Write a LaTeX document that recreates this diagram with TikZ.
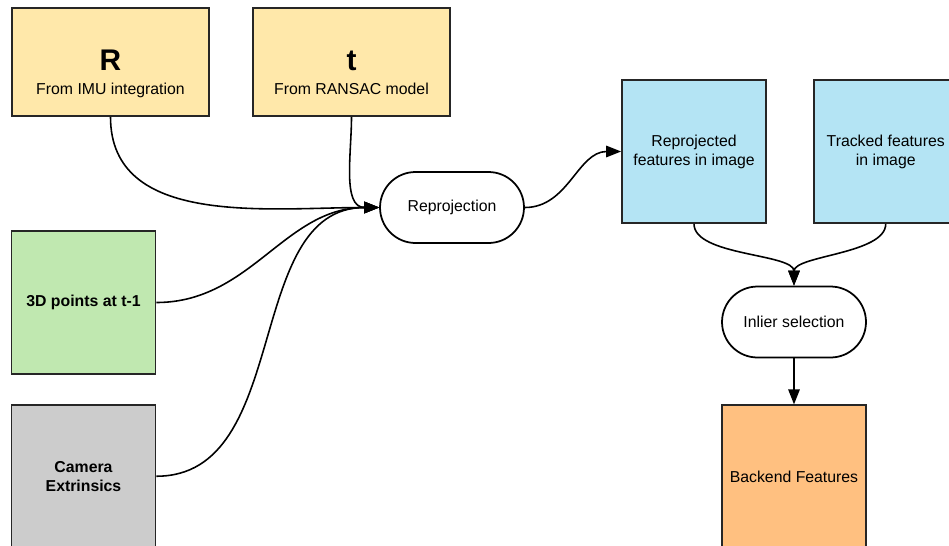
\documentclass[tikz,border=0pt]{standalone}
\usepackage{fontspec}
\setmainfont{Liberation Sans}
\usetikzlibrary{positioning,calc,arrows.meta,shapes.misc}
\definecolor{inyellow}{HTML}{FFE8AA}
\definecolor{ingreen}{HTML}{C0E8B0}
\definecolor{ingray}{HTML}{CCCCCC}
\definecolor{featblue}{HTML}{B4E4F4}
\definecolor{outorange}{HTML}{FFC080}
\tikzset{txt/.style={font=\fontsize{9}{10.8}\selectfont}}
\tikzset{dbox/.style={draw=black!85, line width=1pt, minimum width=2.88cm, minimum height=2.86cm, align=center, inner sep=0pt, txt}}
\tikzset{pill/.style={rounded rectangle, draw=black, line width=1pt, fill=white, minimum width=2.88cm, minimum height=1.42cm, inner sep=0pt, txt}}
\tikzset{arr/.style={draw, line width=0.9pt, -{Triangle[length=8.5pt,width=6.5pt]}}}

\begin{document}
\begin{tikzpicture}[x=0.02cm,y=-0.02cm]
	\useasboundingbox (0,0) rectangle (949,545);

	% inputs
	\node[dbox, fill=inyellow, minimum width=3.94cm, minimum height=2.16cm] (R) at (110.5,62) {};
	\node[anchor=base, font=\fontsize{17}{19}\selectfont\bfseries] (Rsym) at (110.5,70) {R};
	\node[anchor=base, txt] (Rsrc) at (110.5,94.5) {From IMU integration};

	\node[dbox, fill=inyellow, minimum width=3.94cm, minimum height=2.16cm] (t) at (351.5,62) {};
	\node[anchor=base, font=\fontsize{17}{19}\selectfont\bfseries] (tsym) at (351.5,70) {t};
	\node[anchor=base, txt] (tsrc) at (351.5,94.5) {From RANSAC model};

	\node[dbox, fill=ingreen] (pts) at (83.5,302.5) {\bfseries 3D points at t-1};
	\node[dbox, fill=ingray, below=0.58cm of pts] (cam) {\bfseries Camera\\\bfseries Extrinsics};

	% processing
	\node[pill] (reproj) at (452,207.5) {Reprojection};
	\node[dbox, fill=featblue] (reprojfeat) at (694,151.5) {Reprojected\\features in image};
	\node[dbox, fill=featblue, right=0.92cm of reprojfeat] (tracked) {Tracked features\\in image};
	\node[pill] (inlier) at (794,322) {Inlier selection};
	\node[dbox, fill=outorange, below=0.92cm of inlier] (backend) {Backend Features};

	\draw[arr] (R.south) to[out=-90, in=180] (reproj.west);
	\draw[arr] (t.south) to[out=-90, in=180] (reproj.west);
	\draw[arr] (pts.east) to[out=0, in=180] (reproj.west);
	\draw[arr] (cam.east) to[out=0, in=180] (reproj.west);

	\draw[arr] (reproj.east) to[out=0, in=180] (reprojfeat.west);
	\draw[arr] (reprojfeat.south) to[out=-90, in=90, looseness=0.7] (inlier.north);
	\draw[arr] (tracked.south) to[out=-90, in=90, looseness=0.7] (inlier.north);
	\draw[arr] (inlier.south) -- (backend.north);
\end{tikzpicture}
\end{document}
